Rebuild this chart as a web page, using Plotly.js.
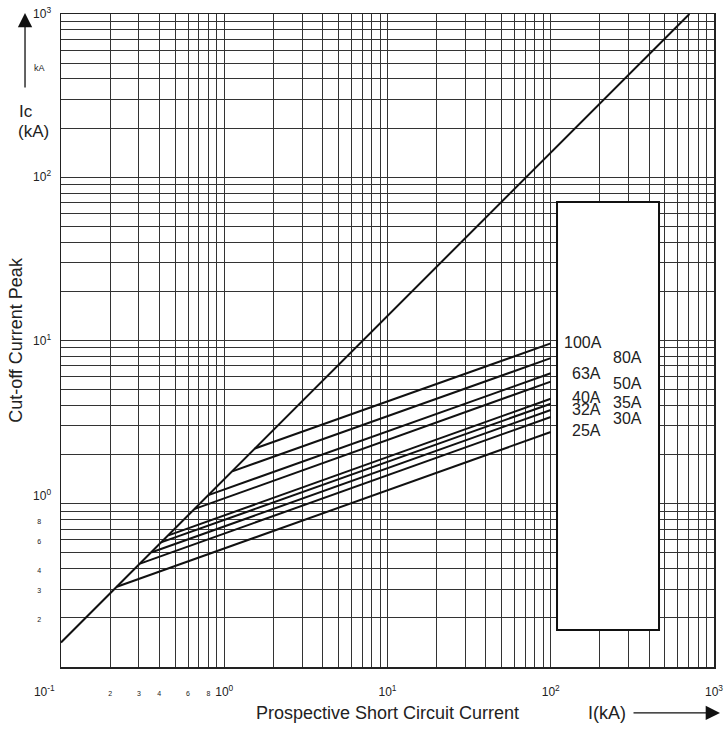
<!DOCTYPE html>
<html>
<head>
<meta charset="utf-8">
<script src="https://cdn.plot.ly/plotly-3.0.1.min.js"></script>
<style>html,body{margin:0;padding:0;background:#fff;}#chart{width:727px;height:729px;}</style>
</head>
<body>
<div id="chart"></div>
<script>
// ---- data ----
const diagX = [0.1, 707];
const diagY = [0.1414, 1000];

const fuseNames  = ['100A', '80A', '63A', '50A', '40A', '35A', '32A', '30A', '25A'];
const fuseStartX = [1.54, 1.12, 0.80, 0.66, 0.455, 0.41, 0.36, 0.305, 0.22];
const fuseStartY = [2.18, 1.58, 1.13, 0.93, 0.64, 0.58, 0.505, 0.43, 0.31];
const fuseEndX   = [100, 100, 100, 100, 100, 100, 100, 100, 100];
const fuseEndY   = [9.6, 7.8, 6.3, 5.6, 4.4, 4.1, 3.75, 3.4, 2.75];

// tick labels
const NB = '\u00a0';
const xTickVals = [0.1, 0.2, 0.3, 0.4, 0.6, 0.8, 1, 10, 100, 1000];
const xTickLabels = ['10<sup>-1</sup>' + NB.repeat(10), '2', '3', '4', '6', '8',
                     '10<sup>0</sup>', '10<sup>1</sup>', '10<sup>2</sup>', '10<sup>3</sup>'];
const yTickVals = [0.2, 0.3, 0.4, 0.6, 0.8, 1, 10, 100, 1000];
const yTickLabels = ['2', '3', '4', '6', '8',
                     '10<sup>0</sup><br>' + NB, '10<sup>1</sup>', '10<sup>2</sup>', '10<sup>3</sup>'];
const minorDigits = ['2', '3', '4', '6', '8'];

// gridline positions (every digit of every decade)
const decades = [0.1, 1, 10, 100];
const gridVals = [];
decades.forEach(d => { for (let k = 1; k <= 9; k++) gridVals.push(+(d * k).toPrecision(3)); });
gridVals.push(1000);

const FONT = 'Liberation Sans, Arial, Helvetica, sans-serif';
const INK = '#222';

function styleLabels(labels, suffix) {
  return labels.map(t => minorDigits.includes(t)
    ? '<span style="font-size:7px;color:#222">' + t + '</span>' + suffix : t);
}

const traces = [{
  x: diagX, y: diagY, mode: 'lines', type: 'scatter',
  line: {color: '#111', width: 2}, hoverinfo: 'skip', showlegend: false
}];
for (let i = 0; i < fuseNames.length; i++) {
  traces.push({
    x: [fuseStartX[i], fuseEndX[i]], y: [fuseStartY[i], fuseEndY[i]],
    mode: 'lines', type: 'scatter', name: fuseNames[i],
    line: {color: '#111', width: 2}, showlegend: false
  });
}

// label positions inside the box (paper coords)
const labelPos = {
  '100A': [0.7994, 0.4977], '80A': [0.8683, 0.4747], '63A': [0.8055, 0.4487],
  '50A': [0.8683, 0.4349], '40A': [0.8055, 0.4134], '35A': [0.8683, 0.4058],
  '32A': [0.8055, 0.3936], '30A': [0.8683, 0.3813], '25A': [0.8055, 0.3629]
};
const annotations = fuseNames.map(n => ({
  xref: 'paper', yref: 'paper', x: labelPos[n][0], y: labelPos[n][1],
  text: n, showarrow: false, xanchor: 'center', yanchor: 'middle',
  font: {family: FONT, size: 16, color: INK}
}));
annotations.push(
  {xref: 'paper', yref: 'paper', x: -0.0674, y: 0.850, text: 'Ic', showarrow: false,
   xanchor: 'left', yanchor: 'middle', font: {family: FONT, size: 17, color: INK}},
  {xref: 'paper', yref: 'paper', x: -0.0689, y: 0.8193, text: '(kA)', showarrow: false,
   xanchor: 'left', yanchor: 'middle', font: {family: FONT, size: 17, color: INK}},
  {xref: 'paper', yref: 'paper', x: -0.0322, y: 0.9173, text: 'kA', showarrow: false,
   xanchor: 'center', yanchor: 'middle', font: {family: FONT, size: 9, color: INK}},
  {xref: 'paper', yref: 'paper', x: 0.836, y: -0.0704, text: 'I(kA)', showarrow: false,
   xanchor: 'center', yanchor: 'middle', font: {family: FONT, size: 18, color: INK}},
  // arrows
  {xref: 'paper', yref: 'paper', x: 1.0092, y: -0.0704, ax: -88, ay: 0, text: '',
   showarrow: true, arrowhead: 2, arrowsize: 2.2, arrowwidth: 1.3, arrowcolor: '#111'},
  {xref: 'paper', yref: 'paper', x: -0.0551, y: 1.0015, ax: 0, ay: 76, text: '',
   showarrow: true, arrowhead: 2, arrowsize: 2.2, arrowwidth: 1.3, arrowcolor: '#111'}
);

const axisCommon = {
  type: 'log', range: [-1, 3], tickmode: 'array',
  showgrid: true, gridcolor: '#333', gridwidth: 1,
  minor: {tickmode: 'array', tickvals: gridVals, showgrid: true, gridcolor: '#333', gridwidth: 1, ticks: ''},
  showline: true, linecolor: '#222', linewidth: 1.5, mirror: true,
  ticks: '', zeroline: false, tickfont: {family: FONT, size: 12, color: INK}
};

const layout = {
  width: 727, height: 729,
  margin: {l: 61, r: 13, t: 14, b: 62},
  paper_bgcolor: '#fff', plot_bgcolor: '#fff',
  font: {family: FONT, color: INK},
  xaxis: Object.assign({}, axisCommon, {
    tickvals: xTickVals, ticktext: styleLabels(xTickLabels, ''), ticklabelstandoff: 13,
    title: {text: 'Prospective Short Circuit Current', font: {family: FONT, size: 18, color: INK}, standoff: 8}
  }),
  yaxis: Object.assign({}, axisCommon, {
    tickvals: yTickVals, ticktext: styleLabels(yTickLabels, NB.repeat(3)), ticklabelstandoff: 6,
    title: {text: 'Cut-off Current Peak' + NB.repeat(3), font: {family: FONT, size: 18, color: INK}, standoff: 6}
  }),
  shapes: [{
    type: 'rect', xref: 'paper', yref: 'paper',
    x0: 0.7596, x1: 0.9158, y0: 0.0567, y1: 0.7121,
    fillcolor: '#fff', line: {color: '#111', width: 2}, layer: 'above'
  }],
  annotations: annotations,
  showlegend: false
};

Plotly.newPlot('chart', traces, layout, {displayModeBar: false, staticPlot: true});
</script>
</body>
</html>
